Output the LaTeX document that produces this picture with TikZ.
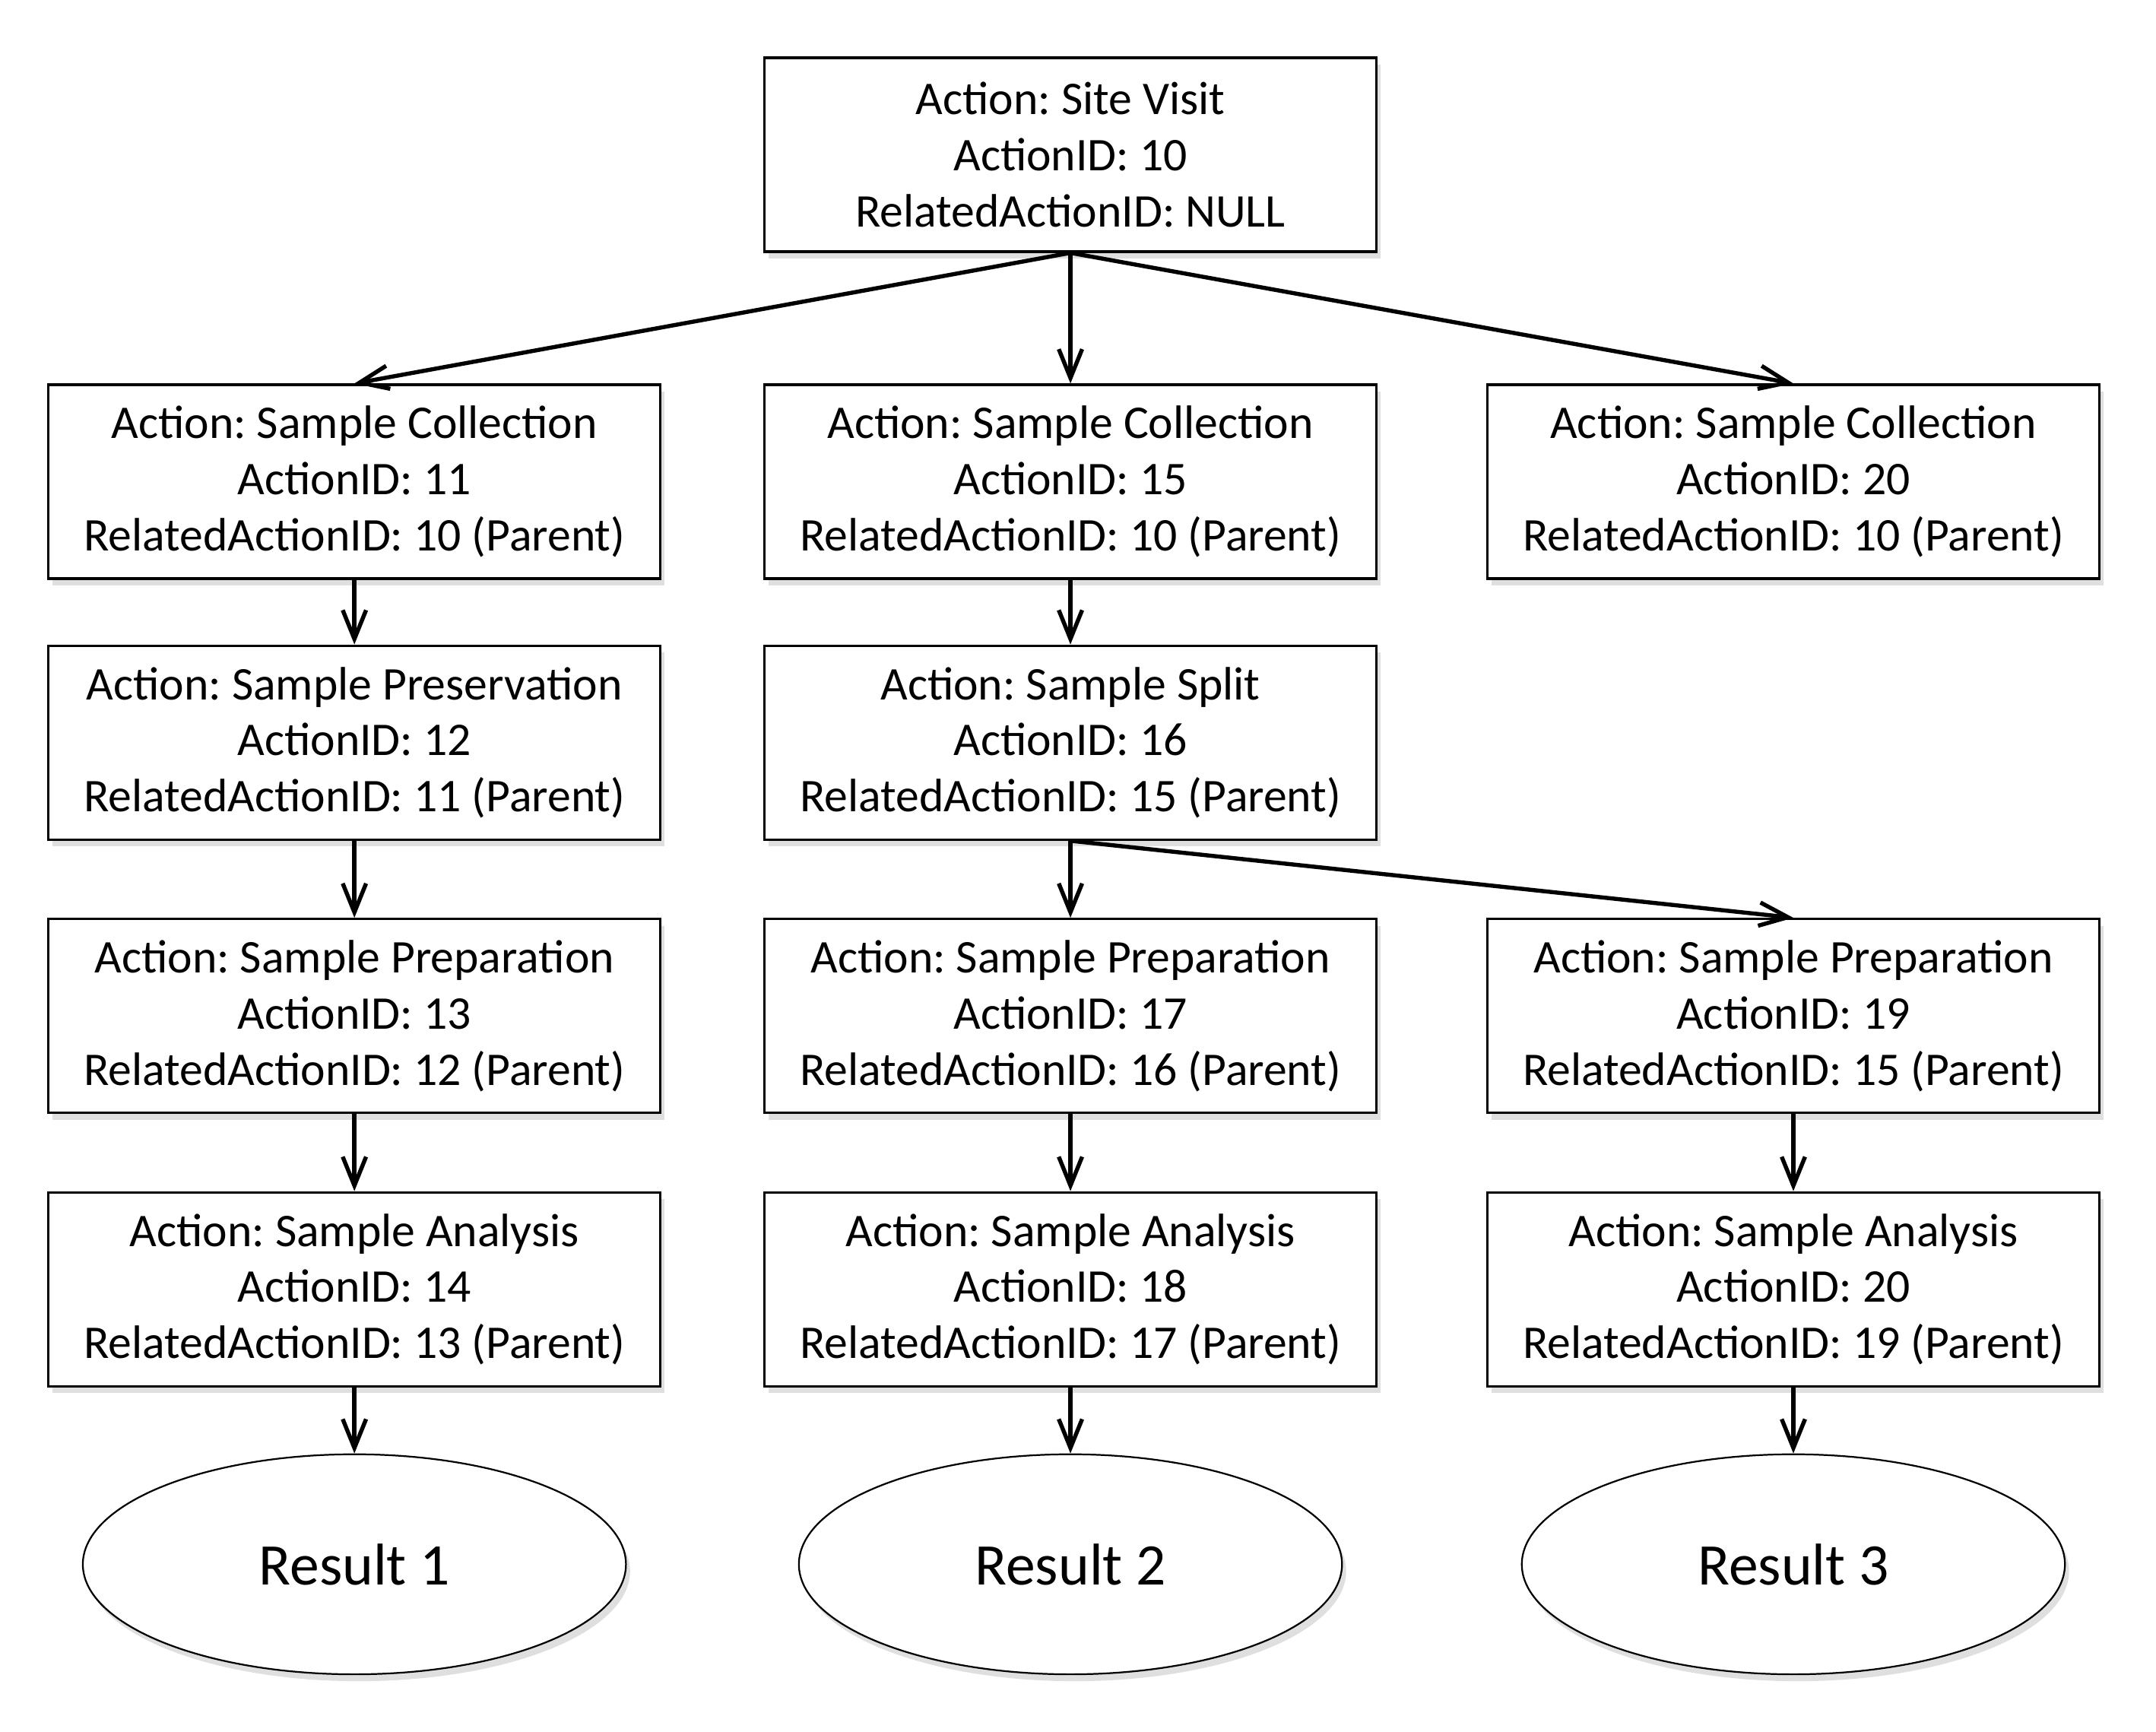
\documentclass[tikz,border=0pt]{standalone}
\usepackage{fontspec}
\setmainfont{Carlito}
\frenchspacing
\usetikzlibrary{arrows.meta,positioning,shapes.geometric,shadows}
\newcommand{\act}[3]{Action: #1\\ActionID: #2\\RelatedActionID: #3}
\begin{document}
\begin{tikzpicture}[
    action/.style={rectangle,draw=black,line width=0.5pt,fill=white,
      minimum width=4.45cm,minimum height=1.41cm,align=center,
      font=\fontsize{9.7}{11.6}\selectfont,
      drop shadow={shadow xshift=0.3mm,shadow yshift=-0.5mm,opacity=0.25}},
    result/.style={ellipse,draw=black,line width=0.35pt,fill=white,
      minimum width=3.95cm,minimum height=1.6cm,inner sep=0pt,
      font=\fontsize{12.2}{14}\selectfont,
      drop shadow={shadow xshift=0.3mm,shadow yshift=-0.5mm,opacity=0.25}},
    arrow/.style={-{Straight Barb[length=2.1mm,width=1.7mm]},line width=0.85pt}
  ]
    \useasboundingbox (0,0) rectangle (15.68,-12.59);
    \node[action] (site) at (7.785,-1.125) {\act{Site Visit}{10}{NULL}};
    % row 1
    \node[action,below=9.5mm of site] (coll15) {\act{Sample Collection}{15}{10 (Parent)}};
    \node[action,left=7.4mm of coll15] (coll11) {\act{Sample Collection}{11}{10 (Parent)}};
    \node[action,right=7.9mm of coll15] (coll20) {\act{Sample Collection}{20}{10 (Parent)}};
    % row 2
    \node[action,below=4.7mm of coll15] (split16) {\act{Sample Split}{16}{15 (Parent)}};
    \node[action,left=7.4mm of split16] (pres12) {\act{Sample Preservation}{12}{11 (Parent)}};
    % row 3
    \node[action,below=5.6mm of split16] (prep17) {\act{Sample Preparation}{17}{16 (Parent)}};
    \node[action,left=7.4mm of prep17] (prep13) {\act{Sample Preparation}{13}{12 (Parent)}};
    \node[action,right=7.9mm of prep17] (prep19) {\act{Sample Preparation}{19}{15 (Parent)}};
    % row 4
    \node[action,below=5.6mm of prep17] (anal18) {\act{Sample Analysis}{18}{17 (Parent)}};
    \node[action,left=7.4mm of anal18] (anal14) {\act{Sample Analysis}{14}{13 (Parent)}};
    \node[action,right=7.9mm of anal18] (anal20) {\act{Sample Analysis}{20}{19 (Parent)}};
    % results
    \node[result,below=4.8mm of anal14] (res1) {Result 1};
    \node[result,below=4.8mm of anal18] (res2) {Result 2};
    \node[result,below=4.8mm of anal20] (res3) {Result 3};
    \draw[arrow] (site.south) -- (coll11.north);
    \draw[arrow] (site.south) -- (coll15.north);
    \draw[arrow] (site.south) -- (coll20.north);
    \draw[arrow] (coll11) -- (pres12);
    \draw[arrow] (pres12) -- (prep13);
    \draw[arrow] (prep13) -- (anal14);
    \draw[arrow] (anal14) -- (res1);
    \draw[arrow] (coll15) -- (split16);
    \draw[arrow] (split16.south) -- (prep17.north);
    \draw[arrow] (split16.south) -- (prep19.north);
    \draw[arrow] (prep17) -- (anal18);
    \draw[arrow] (anal18) -- (res2);
    \draw[arrow] (prep19) -- (anal20);
    \draw[arrow] (anal20) -- (res3);
  \end{tikzpicture}
\end{document}
